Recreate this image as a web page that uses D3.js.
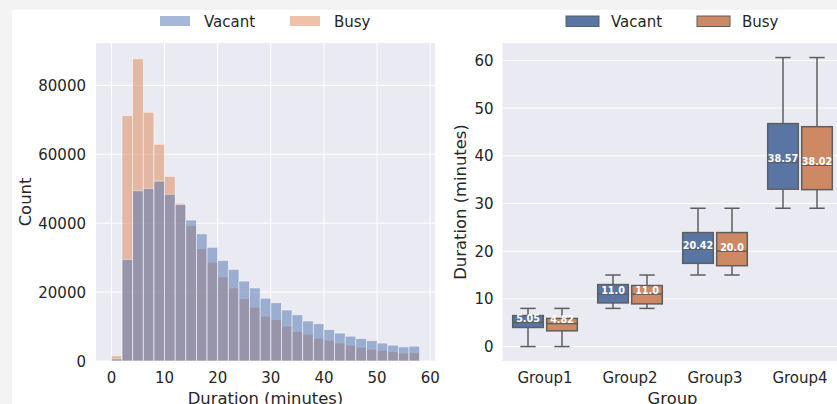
<!DOCTYPE html>
<html><head><meta charset="utf-8">
<script src="https://cdn.jsdelivr.net/npm/d3@7/dist/d3.min.js"></script>
<style>
html,body{margin:0;padding:0;background:#f3f3f3;overflow:hidden;}
svg{display:block;}
text{font-family:"DejaVu Sans",sans-serif;}
</style></head>
<body>
<svg id="chart" width="837" height="404"></svg>
<script>
// ---------- data ----------
const binStarts = [0,2,4,6,8,10,12,14,16,18,20,22,24,26,28,30,32,34,36,38,40,42,44,46,48,50,52,54,56];
const binWidth = 2;
const vacantCounts = [600,29500,49400,50100,52200,48400,45400,40900,36900,33000,29200,26600,23200,21200,18200,16900,14800,13400,11600,10800,9100,8100,7200,6500,5900,5200,4600,4100,4300];
const busyCounts   = [1500,71200,87700,72200,62900,53600,45800,39300,32600,28700,24400,21200,18100,15600,13000,12000,10100,8600,7800,6600,6000,5200,4600,4000,3400,3100,2700,2300,2500];
const histXTicks = [0,10,20,30,40,50,60];
const histYTicks = [0,20000,40000,60000,80000];

const groups = ["Group1","Group2","Group3","Group4"];
const seriesNames = ["Vacant","Busy"];
// [whisker low, q1, median, q3, whisker high]
const vacantBox = [[0,4.0,5.05,6.5,8],[8,9.15,11.0,13.0,15],[15,17.45,20.42,23.9,29],[29,33.0,38.57,46.75,60.6]];
const busyBox   = [[0,3.3,4.82,5.9,8],[8,8.95,11.0,12.8,15],[15,16.95,20.0,23.9,29],[29,32.9,38.02,46.1,60.6]];
const vacantMedianLabels = ["5.05","11.0","20.42","38.57"];
const busyMedianLabels   = ["4.82","11.0","20.0","38.02"];
const boxYTicks = [0,10,20,30,40,50,60];

// ---------- style ----------
const bg = "#eaeaf2", txt = "#262626";
const histColors = {Vacant:"#4c72b0", Busy:"#dd8452"};
const boxColors = {Vacant:"#5975a4", Busy:"#cc8963"};
const lineGray = "#5e5e5e";
const fs = 15, lfs = 16.4;

const svg = d3.select("#chart");
svg.append("rect").attr("x",12).attr("y",10).attr("width",837).attr("height",404).attr("fill","#ffffff");

// ---------- left: histogram ----------
const L = {x0:96, x1:435, y0:43, y1:361};
const hx = d3.scaleLinear().domain([-2.9,60.9]).range([L.x0,L.x1]);
const hy = d3.scaleLinear().domain([0,92300]).range([L.y1,L.y0]);
const gL = svg.append("g");
gL.append("rect").attr("x",L.x0).attr("y",L.y0).attr("width",L.x1-L.x0).attr("height",L.y1-L.y0).attr("fill",bg);
gL.selectAll(".gx").data(histXTicks).enter().append("line")
  .attr("x1",d=>hx(d)).attr("x2",d=>hx(d)).attr("y1",L.y0).attr("y2",L.y1)
  .attr("stroke","#fff").attr("stroke-width",1);
gL.selectAll(".gy").data(histYTicks).enter().append("line")
  .attr("x1",L.x0).attr("x2",L.x1).attr("y1",d=>hy(d)).attr("y2",d=>hy(d))
  .attr("stroke","#fff").attr("stroke-width",1);

function drawHist(counts, color){
  gL.append("g").selectAll("rect").data(counts).enter().append("rect")
    .attr("x",(d,i)=>hx(binStarts[i]))
    .attr("width",(d,i)=>hx(binStarts[i]+binWidth)-hx(binStarts[i]))
    .attr("y",d=>hy(d)).attr("height",d=>hy(0)-hy(d))
    .attr("fill",color).attr("fill-opacity",0.5)
    .attr("stroke","#fff").attr("stroke-opacity",0.6).attr("stroke-width",0.8);
}
drawHist(busyCounts, histColors.Busy);
drawHist(vacantCounts, histColors.Vacant);

gL.selectAll(".tx").data(histXTicks).enter().append("text")
  .attr("x",d=>hx(d)).attr("y",L.y1+22).attr("text-anchor","middle")
  .attr("font-size",fs).attr("fill",txt).text(d=>d);
gL.selectAll(".ty").data(histYTicks).enter().append("text")
  .attr("x",L.x0-10).attr("y",d=>hy(d)+5.5).attr("text-anchor","end")
  .attr("font-size",fs).attr("fill",txt).text(d=>d);
gL.append("text").attr("x",(L.x0+L.x1)/2).attr("y",404).attr("text-anchor","middle")
  .attr("font-size",lfs).attr("fill",txt).text("Duration (minutes)");
gL.append("text").attr("transform",`translate(31,${(L.y0+L.y1)/2}) rotate(-90)`)
  .attr("text-anchor","middle").attr("font-size",lfs).attr("fill",txt).text("Count");

// left legend
const legL = [{name:"Vacant",x:160},{name:"Busy",x:290}];
legL.forEach(d=>{
  svg.append("rect").attr("x",d.x).attr("y",16).attr("width",30).attr("height",10)
    .attr("fill",histColors[d.name]).attr("fill-opacity",0.5);
  svg.append("text").attr("x",d.x+44).attr("y",26.5).attr("font-size",fs).attr("fill",txt).text(d.name);
});

// ---------- right: boxplot ----------
const R = {x0:502.5, x1:842.5, y0:43, y1:361};
const bx = d3.scaleBand().domain(groups).range([R.x0,R.x1]).padding(0);
const by = d3.scaleLinear().domain([-3.03,63.65]).range([R.y1,R.y0]);
const hueOff = d3.scaleBand().domain(seriesNames).range([-0.4,0.4]);
const gR = svg.append("g");
gR.append("rect").attr("x",R.x0).attr("y",R.y0).attr("width",R.x1-R.x0).attr("height",R.y1-R.y0).attr("fill",bg);
gR.selectAll(".gy").data(boxYTicks).enter().append("line")
  .attr("x1",R.x0).attr("x2",R.x1).attr("y1",d=>by(d)).attr("y2",d=>by(d))
  .attr("stroke","#fff").attr("stroke-width",1);

const unit = bx.bandwidth();
const boxW = 0.36*unit;
function drawBoxes(stats, labels, name){
  const g = gR.append("g");
  stats.forEach((s,i)=>{
    const cx = bx(groups[i]) + unit/2 + (hueOff(name)+hueOff.bandwidth()/2)*unit;
    const [lo,q1,med,q3,hi] = s;
    g.append("line").attr("x1",cx).attr("x2",cx).attr("y1",by(q3)).attr("y2",by(hi)).attr("stroke",lineGray).attr("stroke-width",1.5);
    g.append("line").attr("x1",cx).attr("x2",cx).attr("y1",by(q1)).attr("y2",by(lo)).attr("stroke",lineGray).attr("stroke-width",1.5);
    [lo,hi].forEach(v=>g.append("line").attr("x1",cx-boxW/4).attr("x2",cx+boxW/4).attr("y1",by(v)).attr("y2",by(v)).attr("stroke",lineGray).attr("stroke-width",1.5));
    g.append("rect").attr("x",cx-boxW/2).attr("width",boxW).attr("y",by(q3)).attr("height",by(q1)-by(q3))
      .attr("fill",boxColors[name]).attr("stroke",lineGray).attr("stroke-width",1.5);
    g.append("line").attr("x1",cx-boxW/2).attr("x2",cx+boxW/2).attr("y1",by(med)).attr("y2",by(med)).attr("stroke",lineGray).attr("stroke-width",1.5);
    g.append("text").attr("x",cx).attr("y",by(med)-0.5).attr("text-anchor","middle")
      .attr("font-size",9.6).attr("font-weight","bold").attr("fill","#ffffff").text(labels[i]);
  });
}
drawBoxes(vacantBox, vacantMedianLabels, "Vacant");
drawBoxes(busyBox, busyMedianLabels, "Busy");

gR.selectAll(".tx").data(groups).enter().append("text")
  .attr("x",d=>bx(d)+unit/2).attr("y",R.y1+22).attr("text-anchor","middle")
  .attr("font-size",fs).attr("fill",txt).text(d=>d);
gR.selectAll(".ty").data(boxYTicks).enter().append("text")
  .attr("x",R.x0-9).attr("y",d=>by(d)+5.5).attr("text-anchor","end")
  .attr("font-size",fs).attr("fill",txt).text(d=>d);
gR.append("text").attr("x",(R.x0+R.x1)/2).attr("y",404).attr("text-anchor","middle")
  .attr("font-size",lfs).attr("fill",txt).text("Group");
gR.append("text").attr("transform",`translate(466,${(R.y0+R.y1)/2}) rotate(-90)`)
  .attr("text-anchor","middle").attr("font-size",lfs).attr("fill",txt).text("Duration (minutes)");

// right legend
const legR = [{name:"Vacant",x:566},{name:"Busy",x:697}];
legR.forEach(d=>{
  svg.append("rect").attr("x",d.x).attr("y",16).attr("width",33).attr("height",10.5)
    .attr("fill",boxColors[d.name]).attr("stroke",lineGray).attr("stroke-width",1);
  svg.append("text").attr("x",d.x+45).attr("y",26.5).attr("font-size",fs).attr("fill",txt).text(d.name);
});
</script>
</body></html>
